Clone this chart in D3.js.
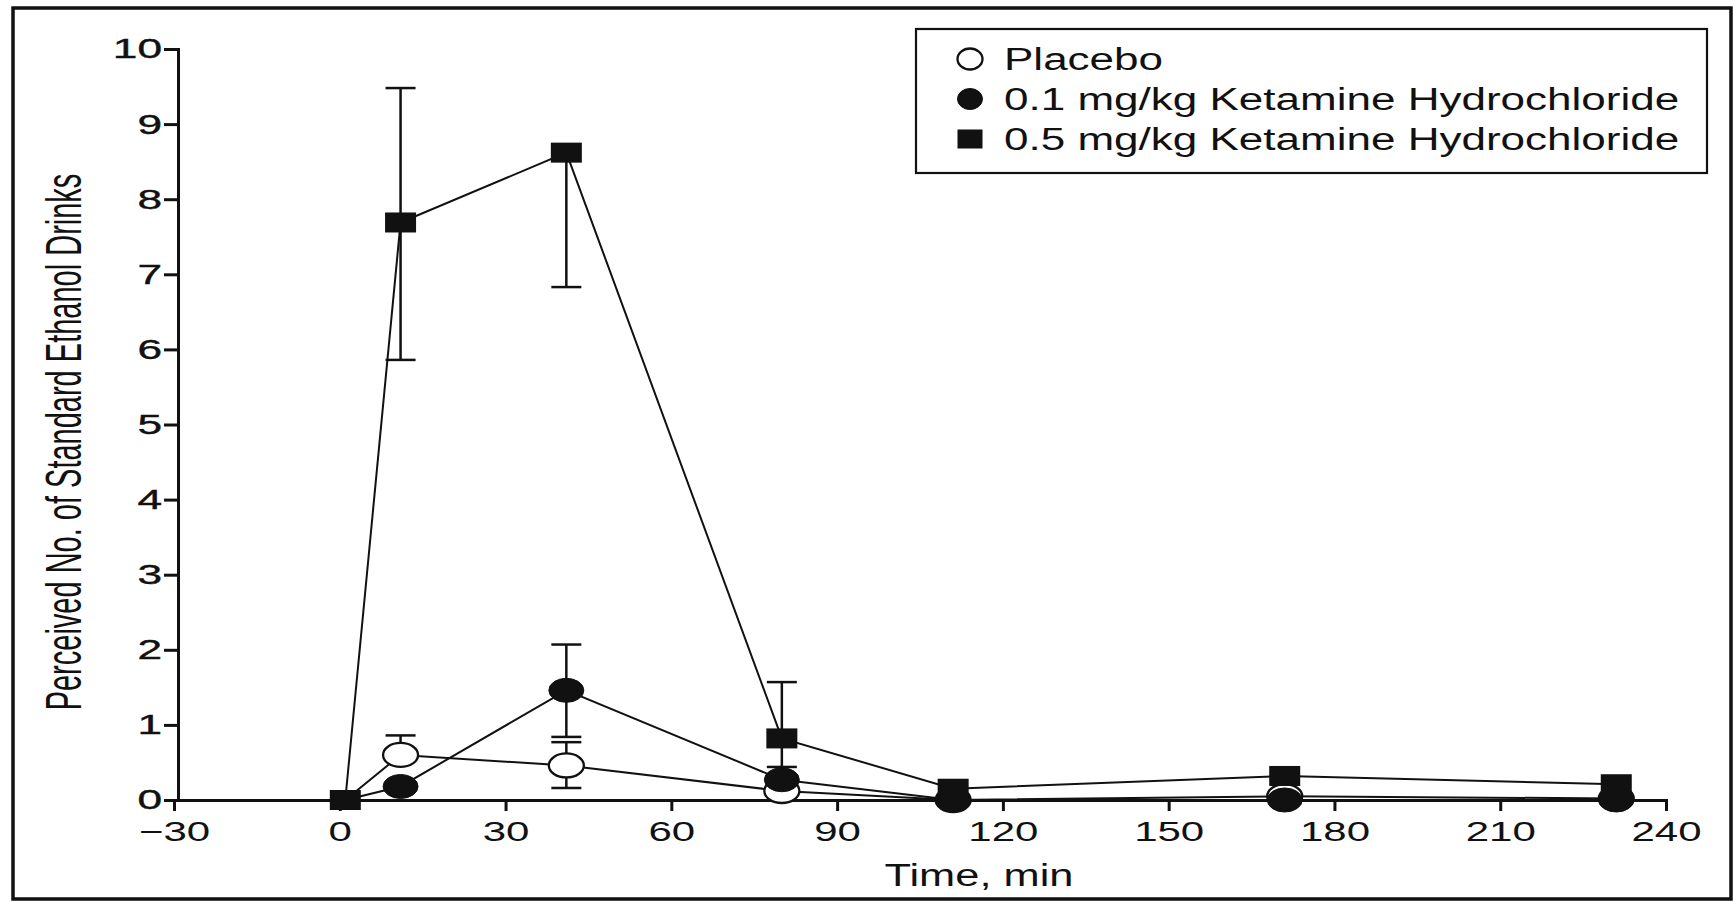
<!DOCTYPE html>
<html>
<head>
<meta charset="utf-8">
<script src="https://cdnjs.cloudflare.com/ajax/libs/d3/7.8.5/d3.min.js"></script>
<style>
  body { margin: 0; background: #fff; }
  svg { display: block; font-family: "Liberation Sans", Arial, Helvetica, sans-serif; }
</style>
</head>
<body>
<div id="container"></div>
<script>
// Values (min after infusion start)
const times = [1, 11, 41, 80, 111, 171, 231];

const placebo = [0, 0.6, 0.46, 0.12, 0, 0.05, 0.02];
const placeboErrUp = [null, 0.26, 0.31, null, null, null, null];
const placeboErrDown = [null, null, 0.3, null, null, null, null];

const lowDose = [0, 0.18, 1.46, 0.27, 0, 0, 0];
const lowDoseErrUp = [null, null, 0.61, 0.17, null, null, null];
const lowDoseErrDown = [null, null, 0.62, null, null, null, null];

const highDose = [0, 7.69, 8.62, 0.82, 0.15, 0.32, 0.21];
const highDoseErrUp = [null, 1.79, null, 0.75, null, null, null];
const highDoseErrDown = [null, 1.83, 1.79, 0.75, null, null, null];

const xTicks = [-30, 0, 30, 60, 90, 120, 150, 180, 210, 240];
const yTicks = [0, 1, 2, 3, 4, 5, 6, 7, 8, 9, 10];
const legendLabels = [
  "Placebo",
  "0.1 mg/kg Ketamine Hydrochloride",
  "0.5 mg/kg Ketamine Hydrochloride",
];

// Constants
const width = 1734;
const height = 903;
const SX = 1.5; // the scanned figure is stretched sideways

const series = [
  { name: legendLabels[0], values: placebo, up: placeboErrUp, down: placeboErrDown, marker: "open" },
  { name: legendLabels[1], values: lowDose, up: lowDoseErrUp, down: lowDoseErrDown, marker: "filled" },
  { name: legendLabels[2], values: highDose, up: highDoseErrUp, down: highDoseErrDown, marker: "square" },
];

// Scales
const x = d3.scaleLinear().domain([-30, 240]).range([174, 1666]);
const y = d3.scaleLinear().domain([0, 10]).range([800, 49]);

const svg = d3
  .select("#container")
  .append("svg")
  .attr("width", width)
  .attr("height", height);

svg.append("rect").attr("width", width).attr("height", height).attr("fill", "#fff");

// outer frame
svg
  .append("rect")
  .attr("x", 13)
  .attr("y", 8)
  .attr("width", 1718)
  .attr("height", 891)
  .attr("fill", "none")
  .attr("stroke", "#111")
  .attr("stroke-width", 3.5);

// Axes
const xAxis = d3.axisBottom(x).tickValues(xTicks).tickSize(11).tickSizeOuter(11).tickPadding(10);
const yAxis = d3.axisLeft(y).tickValues(yTicks).tickSize(14).tickSizeOuter(14).tickPadding(6);

const gx = svg.append("g").attr("transform", `translate(0,${y(0)})`).call(xAxis);
const gy = svg.append("g").attr("transform", `translate(${x(-30) + 4},0)`).call(yAxis);

[gx, gy].forEach((g) => {
  g.selectAll("path, line").attr("stroke", "#111").attr("stroke-width", 3);
  g.selectAll("text").attr("fill", "#111").style("font-size", "28px");
});
gx.selectAll("text").attr("transform", `scale(${SX},1)`);
gy.selectAll("text")
  .attr("transform", "scale(1.58,1)")
  .attr("x", -16 / 1.58)
  .attr("stroke", "#111")
  .attr("stroke-width", 0.4);

// Axis titles
svg
  .append("text")
  .attr("transform", `translate(979,886) scale(1.4,1)`)
  .attr("text-anchor", "middle")
  .style("font-size", "31px")
  .attr("fill", "#111")
  .text("Time, min");

svg
  .append("text")
  .attr("transform", `translate(81,442) scale(1.75,1) rotate(-90)`)
  .attr("text-anchor", "middle")
  .style("font-size", "29px")
  .attr("fill", "#111")
  .text("Perceived No. of Standard Ethanol Drinks");

// Error bars
const capHalf = 15;
series.forEach((s) => {
  const g = svg.append("g").attr("stroke", "#111").attr("stroke-width", 2.5);
  s.values.forEach((v, i) => {
    [s.up[i], s.down[i]].forEach((err, k) => {
      if (err == null) return;
      const end = k === 0 ? v + err : v - err;
      g.append("line")
        .attr("x1", x(times[i])).attr("x2", x(times[i]))
        .attr("y1", y(v)).attr("y2", y(end));
      g.append("line")
        .attr("x1", x(times[i]) - capHalf).attr("x2", x(times[i]) + capHalf)
        .attr("y1", y(end)).attr("y2", y(end));
    });
  });
});

// Lines
const line = d3
  .line()
  .x((d, i) => x(times[i]))
  .y((d) => y(d));

series.forEach((s) => {
  svg
    .append("path")
    .datum(s.values)
    .attr("fill", "none")
    .attr("stroke", "#111")
    .attr("stroke-width", 2)
    .attr("d", line);
});

// Markers
const drawMarker = (g, type, cx, cy, big) => {
  if (type === "square") {
    const w = big ? 31 : 25;
    const h = big ? 20 : 19;
    g.append("rect")
      .attr("x", cx - w / 2).attr("y", cy - h / 2)
      .attr("width", w).attr("height", h)
      .attr("fill", "#111");
  } else {
    g.append("ellipse")
      .attr("cx", cx).attr("cy", cy)
      .attr("rx", big ? 17.5 : 12.5).attr("ry", big ? 12 : 10.5)
      .attr("fill", type === "open" ? "#fff" : "#111")
      .attr("stroke", "#111")
      .attr("stroke-width", type === "open" ? 2.3 : 1);
  }
};

series.forEach((s) => {
  const g = svg.append("g");
  s.values.forEach((v, i) => {
    // at baseline all three start together and only the square shows
    if (i === 0 && s.marker !== "square") return;
    drawMarker(g, s.marker, x(times[i]), y(v), true);
  });
});

// Legend
const legend = svg.append("g").attr("id", "legend");
legend
  .append("rect")
  .attr("x", 916)
  .attr("y", 29)
  .attr("width", 791)
  .attr("height", 144)
  .attr("fill", "#fff")
  .attr("stroke", "#111")
  .attr("stroke-width", 2.2);

series.forEach((s, i) => {
  const cy = 59 + i * 40;
  drawMarker(legend, s.marker, 970, cy, false);
  legend
    .append("text")
    .attr("transform", `translate(1004,${cy + 11}) scale(1.42,1)`)
    .style("font-size", "31px")
    .attr("fill", "#111")
    .text(s.name);
});
</script>
</body>
</html>
